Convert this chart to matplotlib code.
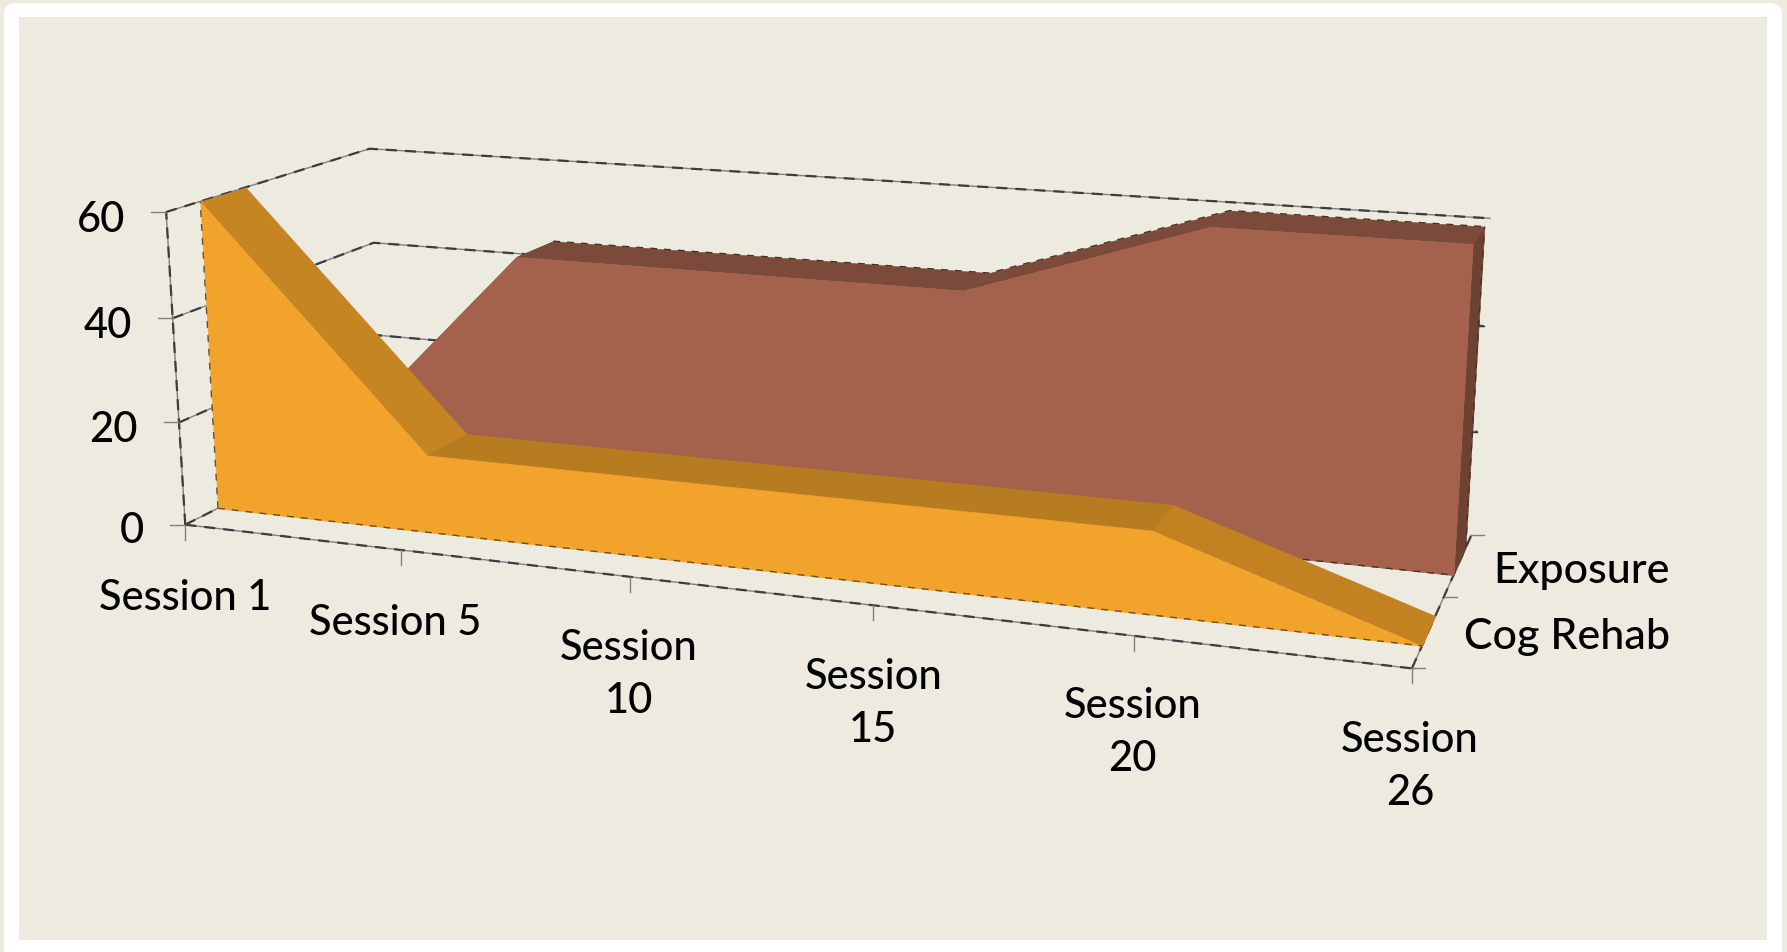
import numpy as np
import matplotlib
matplotlib.use('Agg')
import matplotlib.pyplot as plt
from matplotlib.patches import FancyBboxPatch, Rectangle
from mpl_toolkits.mplot3d import proj3d
from mpl_toolkits.mplot3d.art3d import Poly3DCollection

sessions = ['Session 1', 'Session 5', 'Session\n10', 'Session\n15', 'Session\n20', 'Session\n26']
series_names = ['Cog Rehab', 'Exposure']
cog_rehab = [60, 15, 15, 15, 15, 0]
exposure = [0, 45, 45, 45, 60, 60]
value_ticks = [0, 20, 40, 60]

# depth slots of the two series along the y axis
COG_DEPTH = (0.15, 0.36)
EXP_DEPTH = (0.67, 0.89)

BG = '#EDEBE0'
ORANGE = '#F2A32C'
ORANGE_TOP = ['#C48522', '#B87C20', '#B87C20', '#B87C20', '#C28221']
BROWN = '#A4624C'
BROWN_TOP = '#7C4A3A'
BROWN_SIDE = '#6E4233'
GREY = '#808080'
DARK = '#3d3d3d'

W, H = 1787, 952
plt.rcParams['font.family'] = ['Lato', 'DejaVu Sans']

fig = plt.figure(figsize=(W / 100, H / 100), dpi=100, facecolor=BG)

# white card behind the plot
back = fig.add_axes([0, 0, 1, 1], zorder=0)
back.set_xlim(0, W)
back.set_ylim(H, 0)
back.axis('off')
back.add_patch(FancyBboxPatch((4, 3), 1778, 970, boxstyle='round,pad=0,rounding_size=12', fc='white', ec='none'))
back.add_patch(Rectangle((19, 17), 1748, 923, fc=BG, ec='none'))

# 3d axes sized so one projected unit spans the box; artists run past its edges unclipped
size = 7058.0 * 0.185
left = 823.3 - 0.095 * 7058.0
bottom = H - (374.9 + 0.095 * 7058.0)
ax = fig.add_axes([left / W, bottom / H, size / W, size / H], projection='3d', zorder=1)
ax.set_xlim(0, 5, view_margin=0)
ax.set_ylim(0, 1, view_margin=0)
ax.set_zlim(0, 60, view_margin=0)
ax.view_init(14.119, -69.917, 0.072)
ax.set_proj_type('persp', focal_length=0.3859)
ax.set_box_aspect((3.8188, 1.2582, 1))
ax.set_axis_off()
ax.patch.set_visible(False)
ax.computed_zorder = False
ax.set_autoscale_on(False)


def box_line(xs, ys, zs, z=1):
    # thin grey rule with the heavier broken stroke on top
    ax.plot(xs, ys, zs, color=GREY, lw=1.0, zorder=z, clip_on=False)
    ax.plot(xs, ys, zs, color=DARK, lw=1.6, ls=(0, (5, 3.6)), zorder=z + 0.1, clip_on=False)


def rough_edge(xs, ys, zs, color, z):
    ax.plot(xs, ys, zs, color=color, lw=1.0, ls=(0, (5, 5)), zorder=z, clip_on=False)


def add_poly(verts, color, z):
    ax.add_collection3d(Poly3DCollection([verts], facecolor=color, edgecolor=color, linewidth=0.4,
                                         zorder=z, clip_on=False))


def add_area(values, depth, front, tops, z):
    d0, d1 = depth
    n = len(values)
    for i in range(n - 1):
        add_poly([(i, d0, values[i]), (i + 1, d0, values[i + 1]), (i + 1, d1, values[i + 1]), (i, d1, values[i])],
                 tops[i], z)
    add_poly([(i, d0, values[i]) for i in range(n)] + [(n - 1, d0, 0), (0, d0, 0)], front, z + 0.2)


# walls and floor edges
for v in value_ticks[1:]:
    box_line([0, 0, 5], [0, 1, 1], [v, v, v])
box_line([0, 0], [0, 0], [0, 60])
box_line([0, 5], [0, 0], [0, 0])
box_line([5, 5], [0, 1], [0, 0])
box_line([0, 0], [0, 1], [0, 0])

# exposure sits behind cog rehab
d0, d1 = EXP_DEPTH
last = len(sessions) - 1
add_poly([(last, d0, 0), (last, d1, 0), (last, d1, exposure[-1]), (last, d0, exposure[-1])], BROWN_SIDE, 3)
add_area(exposure, EXP_DEPTH, BROWN, [BROWN_TOP] * last, 3.1)
rough_edge([0, last], [d0, d0], [0, 0], '#4d3024', 3.5)
rough_edge(range(1, len(sessions)), [d1] * last, exposure[1:], '#4d3024', 3.5)
rough_edge([last, last], [d1, d1], [0, exposure[-1]], '#4d3024', 3.5)

add_area(cog_rehab, COG_DEPTH, ORANGE, ORANGE_TOP, 4)
d0, d1 = COG_DEPTH
rough_edge([0, 0], [d0, d0], [0, cog_rehab[0]], '#6b5226', 4.5)
rough_edge([0, last], [d0, d0], [0, 0], '#6b5226', 4.5)

# ticks and labels are laid out in figure pixels from the projected axis positions
top = fig.add_axes([0, 0, 1, 1], zorder=2)
top.set_xlim(0, W)
top.set_ylim(H, 0)
top.axis('off')
ax.apply_aspect()
M = ax.get_proj()


def to_px(x, y, z):
    xp, yp, _ = proj3d.proj_transform(x, y, z, M)
    px = ax.transData.transform((xp, yp))
    return px[0], H - px[1]


def tick(x, y, z, dx, dy, color=GREY):
    u, v = to_px(x, y, z)
    top.plot([u, u + dx], [v, v + dy], color=color, lw=1.0)
    return u, v


label_kw = dict(color='black', fontsize=30, fontweight='medium', ha='center', va='center', linespacing=1.48)
session_off = [(0, 73), (-5, 73), (-1, 98), (0, 98), (-1, 97), (-2, 98)]
for i, name in enumerate(sessions):
    u, v = tick(i, 0, 0, 0, 15)
    top.text(u + session_off[i][0], v + session_off[i][1], name, **label_kw)

value_off = [6, 8, 8, 8]
for val, off in zip(value_ticks, value_off):
    u, v = tick(0, 0, val, -15, 0)
    top.text(u - 41, v + off, str(val), color='black', fontsize=30, fontweight='medium', ha='right', va='center')

# short marks left on the right wall at the inner gridline levels
for val in value_ticks[1:3]:
    tick(last, 1, val, -6, 0, color=DARK)

for d in (0, 0.5, 1):
    tick(last, d, 0, 13, 0)

series_off = [(139, 6), (124, 6)]
for i, name in enumerate(series_names):
    u, v = to_px(last, 0.25 + 0.5 * i, 0)
    top.text(u + series_off[i][0], v + series_off[i][1], name, fontsize=31, color='black', fontweight='medium',
             ha='center', va='center')

fig.savefig('out.png', dpi=100, facecolor=BG)
